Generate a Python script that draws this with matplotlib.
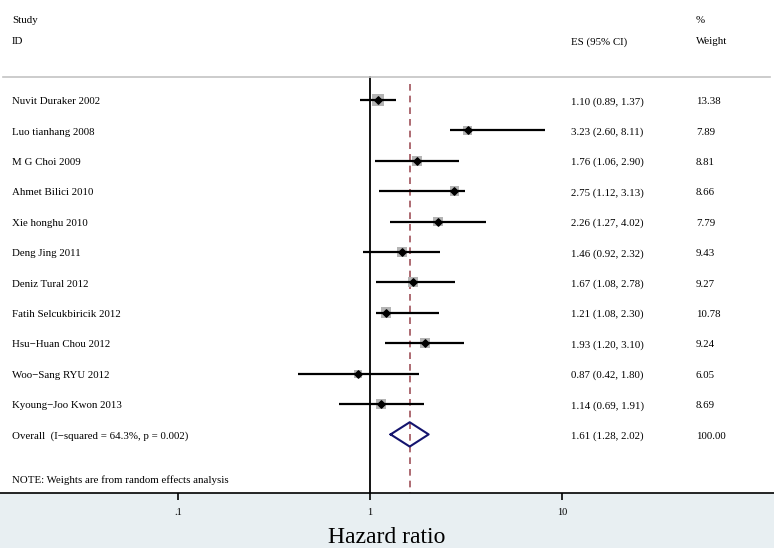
import matplotlib
matplotlib.use("Agg")
import matplotlib.pyplot as plt
import numpy as np

plt.rcParams["font.family"] = ["Liberation Serif", "DejaVu Serif"]

studies = ["Nuvit Duraker 2002", "Luo tianhang 2008", "M G Choi 2009",
           "Ahmet Bilici 2010", "Xie honghu 2010", "Deng Jing 2011",
           "Deniz Tural 2012", "Fatih Selcukbiricik 2012", "Hsu\u2212Huan Chou 2012",
           "Woo\u2212Sang RYU 2012", "Kyoung\u2212Joo Kwon 2013"]
es = [1.10, 3.23, 1.76, 2.75, 2.26, 1.46, 1.67, 1.21, 1.93, 0.87, 1.14]
lo = [0.89, 2.60, 1.06, 1.12, 1.27, 0.92, 1.08, 1.08, 1.20, 0.42, 0.69]
hi = [1.37, 8.11, 2.90, 3.13, 4.02, 2.32, 2.78, 2.30, 3.10, 1.80, 1.91]
weights = [13.38, 7.89, 8.81, 8.66, 7.79, 9.43, 9.27, 10.78, 9.24, 6.05, 8.69]

overall_label = "Overall  (I\u2212squared = 64.3%, p = 0.002)"
overall_es, overall_lo, overall_hi = 1.61, 1.28, 2.02
ticks = [0.1, 1, 10]
tick_labels = [".1", "1", "10"]

W, H = 774, 548
fig = plt.figure(figsize=(W / 100, H / 100), dpi=100, facecolor="#e8eff2")
ax = fig.add_axes([0, 55 / H, 1, 493 / H])
ax.set_facecolor("white")
ax.set_xscale("log")
# 192 px per decade, 1 at pixel 370
ax.set_xlim(10 ** (-370 / 192), 10 ** ((W - 370) / 192))
row = 30.4
ax.set_ylim((493 - 100) / row, -100 / row)

for s in ["top", "left", "right"]:
    ax.spines[s].set_visible(False)
ax.spines["bottom"].set_linewidth(1.2)
ax.set_yticks([])
ax.set_xticks(ticks)
ax.set_xticklabels(tick_labels, fontsize=7.5)
ax.xaxis.set_minor_locator(matplotlib.ticker.NullLocator())
ax.tick_params(axis="x", direction="out", length=5, width=1.2, pad=6)
ax.set_xlabel("Hazard ratio", fontsize=17, labelpad=7)

n = len(studies)
y = np.arange(n)
ybot = (493 - 100) / row
yhead = (77 - 100) / row

# reference lines
ax.plot([1, 1], [yhead, ybot], color="black", lw=1.3, zorder=1)
ax.plot([overall_es, overall_es], [(84 - 100) / row, ybot], color="#a0525a",
        lw=1.2, ls=(0, (4, 3)), zorder=1)

# header line
ax.plot([10 ** (-367 / 192), 10 ** ((770 - 370) / 192)], [yhead, yhead],
        color="#c4c4c4", lw=1.2)

# study estimates
ax.scatter(es, y, marker="s", s=np.array(weights) * 5.5, color="#b4b4b4",
           edgecolors="none", zorder=2)
ax.hlines(y, lo, hi, color="black", lw=1.6, zorder=3)
ax.scatter(es, y, marker="D", s=14, color="black", zorder=4)

# overall diamond
yo = n
dh = 0.4
ax.plot([overall_lo, overall_es, overall_hi, overall_es, overall_lo],
        [yo, yo - dh, yo, yo + dh, yo], color="#14146e", lw=1.5, zorder=4)

# text columns, aligned on the baseline so every column sits level
tr = ax.get_yaxis_transform()
fs = 7.8
dy = 0.14


def xf(px):
    return px / W


def put(px, yy, s):
    ax.text(xf(px), yy + dy, s, transform=tr, fontsize=fs, va="baseline")


put(12, (19 - 100) / row, "Study")
put(12, (40 - 100) / row, "ID")
put(571, (40 - 100) / row, "ES (95% CI)")
put(696, (19 - 100) / row, "%")
put(696, (40 - 100) / row, "Weight")

for i in range(n):
    put(12, i, studies[i])
    put(571, i, "%.2f (%.2f, %.2f)" % (es[i], lo[i], hi[i]))
    put(696, i, "%.2f" % weights[i])

put(12, yo, overall_label)
put(571, yo, "%.2f (%.2f, %.2f)" % (overall_es, overall_lo, overall_hi))
put(696, yo, "100.00")
put(12, (479 - 100) / row, "NOTE: Weights are from random effects analysis")

fig.savefig("out.png", dpi=100, facecolor=fig.get_facecolor())
